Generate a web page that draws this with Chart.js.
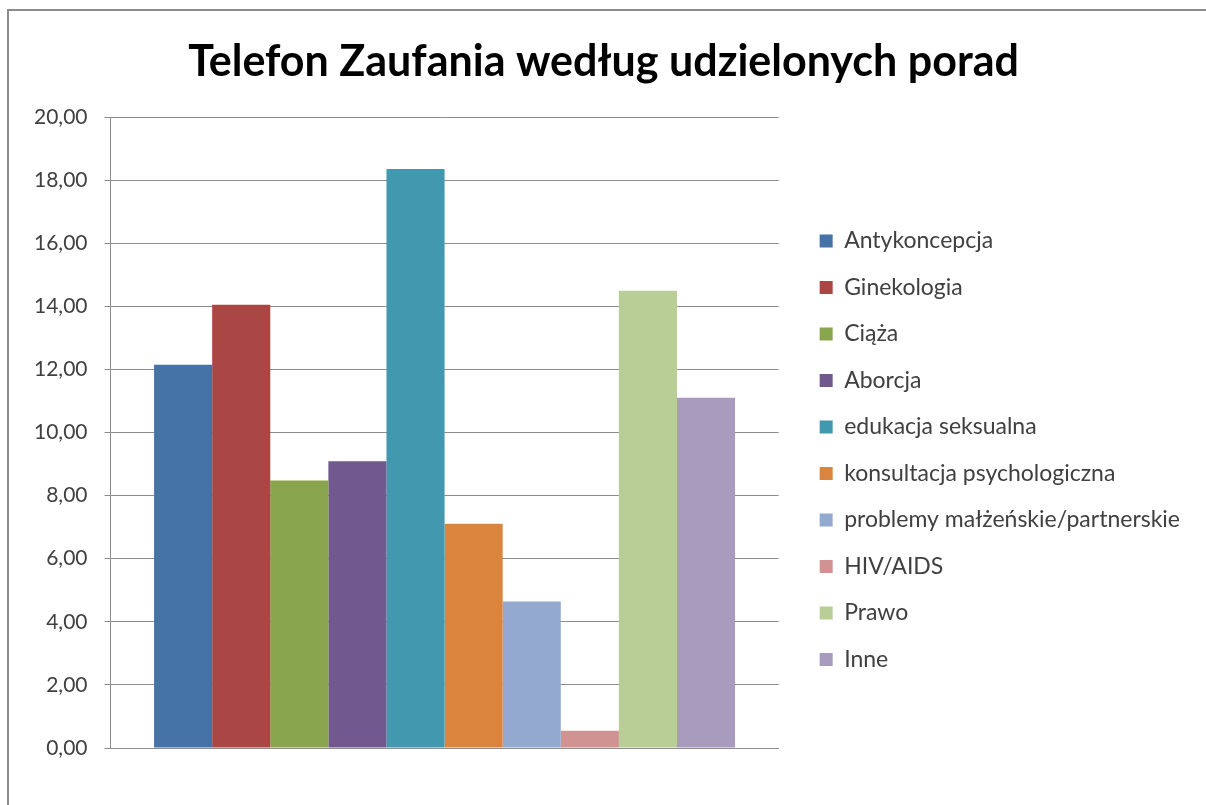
<!DOCTYPE html>
<html>
<head>
<meta charset="utf-8">
<script src="https://cdn.jsdelivr.net/npm/chart.js@4/dist/chart.umd.min.js"></script>
<style>
    html, body { margin: 0; padding: 0; background: #ffffff; overflow: hidden; }
    #wrap { position: relative; width: 1206px; height: 805px; overflow: hidden; }
    #frame { position: absolute; left: 7px; top: 9px; width: 1400px; height: 1000px;
             border-left: 2px solid #8c8c8c; border-top: 2px solid #8c8c8c; }
    canvas { position: absolute; left: 0; top: 0; }
</style>
</head>
<body>
<div id="wrap">
    <div id="frame"></div>
    <canvas id="poradyChart" width="1206" height="805"></canvas>
</div>
<script>
// Kategorie porad i ich udział
const categories = [''];
const seriesNames = ['Antykoncepcja', 'Ginekologia', 'Ciąża', 'Aborcja', 'edukacja seksualna',
    'konsultacja psychologiczna', 'problemy małżeńskie/partnerskie', 'HIV/AIDS', 'Prawo', 'Inne'];
const seriesValues = [12.15, 14.05, 8.48, 9.09, 18.35, 7.11, 4.64, 0.55, 14.49, 11.10];
const seriesColors = ['#4572A7', '#AA4643', '#89A54E', '#71588F', '#4198AF',
    '#DB843D', '#93A9CF', '#D19392', '#B9CD96', '#A99BBD'];
const yTicks = [0, 2, 4, 6, 8, 10, 12, 14, 16, 18, 20];

const gridColor = '#8c8c8c';

const datasets = seriesNames.map(function(name, i) {
    return {
        label: name,
        data: [seriesValues[i]],
        backgroundColor: seriesColors[i],
        borderWidth: 0
    };
});

const ctx = document.getElementById('poradyChart').getContext('2d');
new Chart(ctx, {
    type: 'bar',
    data: {
        labels: categories,
        datasets: datasets
    },
    options: {
        responsive: false,
        animation: false,
        categoryPercentage: 10 / 11.5,
        barPercentage: 1,
        layout: {
            padding: { left: 17, right: 16, top: 0, bottom: 57 }
        },
        plugins: {
            title: {
                display: true,
                text: 'Telefon Zaufania według udzielonych porad',
                color: '#000000',
                font: { family: 'Lato', size: 43, weight: 'bold', lineHeight: 1.2 },
                padding: { top: 36, bottom: 29.4 }
            },
            legend: {
                position: 'right',
                fullSize: false,
                align: 'center',
                maxWidth: 460,
                title: {
                    display: true,
                    text: '',
                    font: { size: 10, lineHeight: 1 },
                    padding: { top: 0, bottom: 25.5 }
                },
                labels: {
                    boxWidth: 13,
                    boxHeight: 13,
                    padding: 23.5,
                    color: '#404040',
                    font: { family: 'Lato', size: 23 }
                }
            },
            tooltip: { enabled: false }
        },
        scales: {
            x: {
                grid: { display: false, drawTicks: false },
                border: { display: true, color: gridColor, width: 1 },
                ticks: { display: false }
            },
            y: {
                min: 0,
                max: 20,
                afterBuildTicks: function(scale) {
                    scale.ticks = yTicks.map(function(v) { return { value: v }; });
                },
                grid: { color: gridColor, lineWidth: 1, drawTicks: true, tickLength: 6, tickColor: gridColor },
                border: { display: true, color: gridColor, width: 1 },
                ticks: {
                    color: '#404040',
                    padding: 17,
                    font: { family: 'Lato', size: 21 },
                    callback: function(value) {
                        return value.toFixed(2).replace('.', ',');
                    }
                }
            },
            // pusty odstęp między obszarem wykresu a legendą
            gap: {
                type: 'linear',
                position: 'right',
                display: true,
                grid: { display: false, drawTicks: false },
                border: { display: false },
                ticks: { display: false },
                afterFit: function(scale) {
                    scale.width = 17.5;
                }
            }
        }
    }
});
</script>
</body>
</html>
